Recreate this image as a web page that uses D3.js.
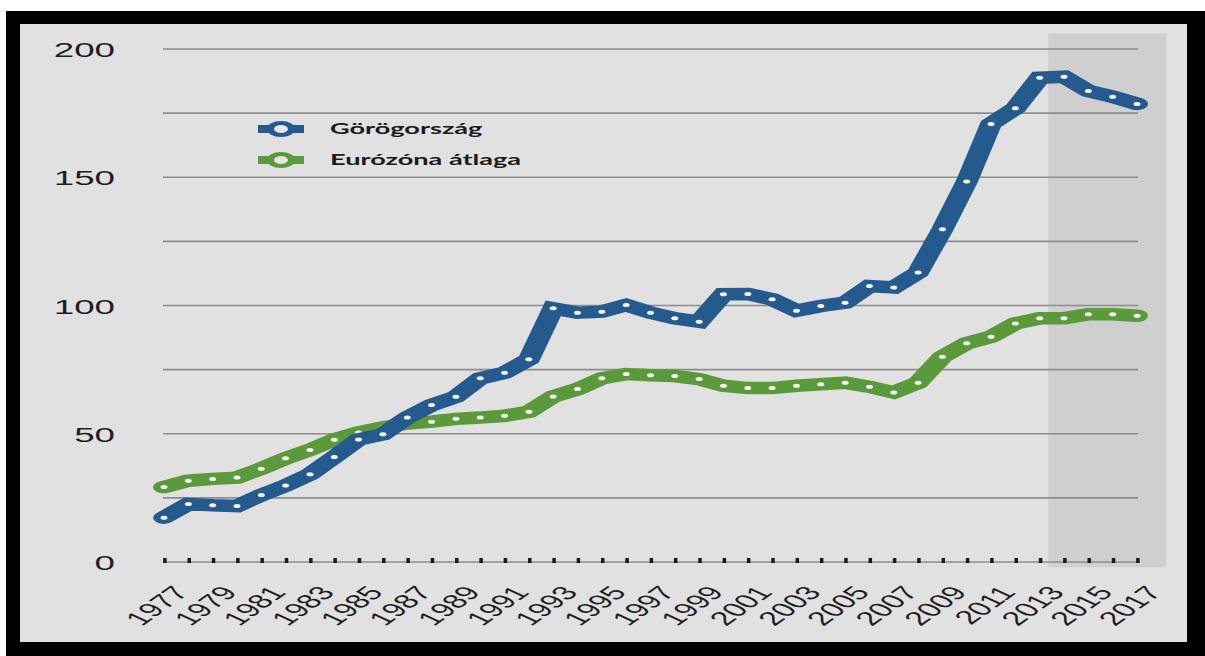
<!DOCTYPE html>
<html>
<head>
<meta charset="utf-8">
<script src="https://cdn.jsdelivr.net/npm/d3@7"></script>
<style>
  body { margin: 0; background: #ffffff; }
  svg { display: block; }
</style>
</head>
<body>
<svg id="chart" width="1205" height="656"></svg>
<script>
// Years on the x axis
const years = [1977, 1978, 1979, 1980, 1981, 1982, 1983, 1984, 1985, 1986,
               1987, 1988, 1989, 1990, 1991, 1992, 1993, 1994, 1995, 1996,
               1997, 1998, 1999, 2000, 2001, 2002, 2003, 2004, 2005, 2006,
               2007, 2008, 2009, 2010, 2011, 2012, 2013, 2014, 2015, 2016, 2017];

// Government debt, % of GDP
const greece = [17.3, 22.6, 22.1, 21.8, 26.1, 29.8, 34.2, 40.9, 47.8, 49.8,
                56.3, 61.2, 64.4, 71.6, 73.8, 79.0, 98.9, 97.2, 97.6, 100.2,
                97.2, 95.0, 93.7, 104.4, 104.5, 102.4, 98.0, 99.8, 101.1, 107.6,
                107.0, 112.9, 129.7, 148.3, 170.8, 176.9, 188.8, 189.2, 183.6, 181.4, 178.6];
const eurozone = [29.2, 31.7, 32.4, 32.9, 36.4, 40.4, 43.7, 47.7, 50.5, 52.5,
                  54.0, 54.7, 55.8, 56.3, 57.0, 58.6, 64.5, 67.4, 71.6, 73.3,
                  72.8, 72.5, 71.3, 68.7, 67.8, 67.8, 68.7, 69.3, 69.9, 68.3,
                  66.1, 69.9, 80.0, 85.3, 87.8, 93.0, 95.0, 95.0, 96.6, 96.6, 96.0];

const seriesNames = ["Görögország", "Eurózóna átlaga"];
const yTickValues = [0, 50, 100, 150, 200];
const gridValues = [25, 50, 75, 100, 125, 150, 175, 200];
const xLabelYears = [1977, 1979, 1981, 1983, 1985, 1987, 1989, 1991, 1993, 1995,
                     1997, 1999, 2001, 2003, 2005, 2007, 2009, 2011, 2013, 2015, 2017];
// Forecast period (shaded)
const forecastSpan = [2013.35, 2018.2];

// The whole chart is drawn in a horizontally stretched coordinate system
const S = 1.75;
const BLUE = "#245a8e";
const GREEN = "#5a9a3b";

const svg = d3.select("#chart");

// frame and panel
svg.append("rect").attr("x", 6).attr("y", 11).attr("width", 1199).attr("height", 645).attr("fill", "#000");
svg.append("rect").attr("x", 20).attr("y", 24).attr("width", 1167).attr("height", 618).attr("fill", "#e1e1e1");

const g = svg.append("g").attr("transform", `scale(${S},1)`);

const x = d3.scaleLinear().domain([1977, 2017]).range([164 / S, 1137 / S]);
const y = d3.scaleLinear().domain([0, 200]).range([562, 49]);

// forecast shading
g.append("rect")
  .attr("x", x(forecastSpan[0]))
  .attr("width", x(forecastSpan[1]) - x(forecastSpan[0]))
  .attr("y", y(206))
  .attr("height", y(-2) - y(206))
  .attr("fill", "#cfcfcf");

// horizontal gridlines
g.append("g").selectAll("line").data(gridValues).join("line")
  .attr("x1", 163 / S).attr("x2", 1138 / S)
  .attr("y1", d => y(d)).attr("y2", d => y(d))
  .attr("stroke", "#8d8d8d").attr("stroke-width", 1.6);

// y axis labels
const yAxis = g.append("g")
  .attr("transform", `translate(${115 / S},0)`)
  .call(d3.axisLeft(y).tickValues(yTickValues).tickSize(0).tickPadding(0));
yAxis.select(".domain").remove();
yAxis.selectAll("text")
  .attr("font-family", "Liberation Sans, Arial, sans-serif")
  .attr("font-size", 21)
  .attr("fill", "#1e1e1e")
  .attr("dy", "0.36em");

// x axis: baseline with small tick marks at every year
const xAxis = g.append("g")
  .attr("transform", `translate(0,${y(0)})`)
  .call(d3.axisBottom(x).tickValues(years).tickSize(-4).tickFormat(""));
xAxis.select(".domain")
  .attr("d", `M${163 / S},0H${1140 / S}`)
  .attr("stroke", "#8d8d8d").attr("stroke-width", 1.6);
xAxis.selectAll(".tick line")
  .attr("stroke", "#1a1a1a").attr("stroke-width", 2)
  .attr("y1", 1);

// rotated year labels
const xLab = g.append("g")
  .attr("transform", `translate(0,${y(0)})`)
  .call(d3.axisBottom(x).tickValues(xLabelYears).tickSize(0).tickFormat(d3.format("d")));
xLab.select(".domain").remove();
xLab.selectAll("text")
  .attr("font-family", "Liberation Sans, Arial, sans-serif")
  .attr("font-size", 19.5)
  .attr("fill", "#1e1e1e")
  .attr("text-anchor", "end")
  .attr("y", null).attr("dy", null)
  .attr("transform", `translate(${25 / S},31) rotate(-51)`);

// series lines
const line = d3.line().x((d, i) => x(years[i])).y(d => y(d));
const series = [
  { name: seriesNames[1], values: eurozone, color: GREEN },
  { name: seriesNames[0], values: greece, color: BLUE }
];
series.forEach(s => {
  g.append("path")
    .datum(s.values)
    .attr("d", line)
    .attr("fill", "none")
    .attr("stroke", s.color)
    .attr("stroke-width", 12.5)
    .attr("stroke-linecap", "round")
    .attr("stroke-linejoin", "miter")
    .attr("stroke-miterlimit", 10);
  g.append("g").selectAll("circle").data(s.values).join("circle")
    .attr("cx", (d, i) => x(years[i]))
    .attr("cy", d => y(d))
    .attr("r", 2)
    .attr("fill", "#f4f6f8");
});

// legend
const legend = [
  { name: seriesNames[0], color: BLUE, cy: 129 },
  { name: seriesNames[1], color: GREEN, cy: 160 }
];
legend.forEach(l => {
  g.append("line")
    .attr("x1", 258 / S).attr("x2", 304 / S)
    .attr("y1", l.cy).attr("y2", l.cy)
    .attr("stroke", l.color).attr("stroke-width", 8);
  g.append("circle")
    .attr("cx", 281 / S).attr("cy", l.cy).attr("r", 6)
    .attr("fill", "#e6e6e6").attr("stroke", l.color).attr("stroke-width", 4);
  g.append("text")
    .attr("x", 330 / S).attr("y", l.cy + 5)
    .attr("font-family", "Lato, Open Sans, sans-serif")
    .attr("font-weight", 700)
    .attr("font-size", 15.5)
    .attr("fill", "#1a1a1a")
    .text(l.name);
});
</script>
</body>
</html>
